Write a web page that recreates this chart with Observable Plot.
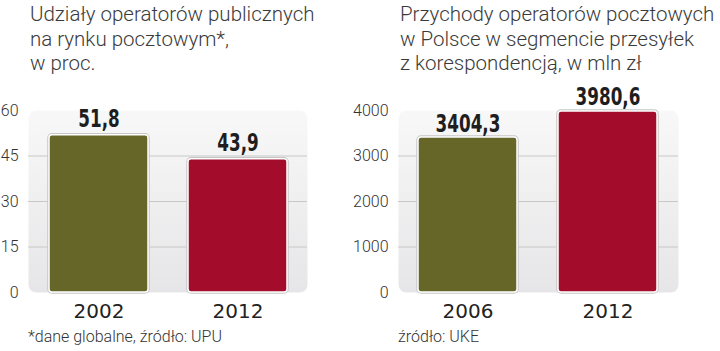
<!DOCTYPE html>
<html><head><meta charset="utf-8">
<script src="https://cdn.jsdelivr.net/npm/d3@7"></script>
<script src="https://cdn.jsdelivr.net/npm/@observablehq/plot@0.6"></script>
<style>
html,body{margin:0;padding:0;background:#fff;}
body{width:720px;height:351px;overflow:hidden;position:relative;font-family:Roboto,sans-serif;}
.title{position:absolute;top:2px;font-weight:300;font-size:20.5px;line-height:24.5px;color:#3a3a3a;white-space:nowrap}
.foot{position:absolute;top:327px;font-weight:300;font-size:16px;color:#333;white-space:nowrap}
.chart{position:absolute;top:80px}
</style></head><body>
<div class="title" style="left:30px">Udziały operatorów publicznych<br>na rynku pocztowym*,<br>w proc.</div>
<div class="title" style="left:400px">Przychody operatorów pocztowych<br>w Polsce w segmencie przesyłek<br>z korespondencją, w mln zł</div>
<div class="chart" id="c1" style="left:0px;width:360px"></div>
<div class="chart" id="c2" style="left:345px;width:375px"></div>
<div class="foot" style="left:28px">*dane globalne, źródło: UPU</div>
<div class="foot" style="left:398px">źródło: UKE</div>
<script>
const years1 = ["2002", "2012"];
const values1 = [51.8, 43.9];
const labels1 = ["51,8", "43,9"];
const ticks1 = [0, 15, 30, 45, 60];

const years2 = ["2006", "2012"];
const values2 = [3404.3, 3980.6];
const labels2 = ["3404,3", "3980,6"];
const ticks2 = [0, 1000, 2000, 3000, 4000];

const barColors = ["#666629", "#a30c2b"];

function panel({years, values, labels, ticks, width, marginLeft, marginRight, id, dy}) {
  const data = years.map((y, i) => ({year: y, value: values[i], label: labels[i], color: barColors[i]}));
  const gradient = () => {
    const defs = document.createElementNS("http://www.w3.org/2000/svg", "defs");
    defs.innerHTML = `<linearGradient id="${id}" x1="0" y1="0" x2="0" y2="1">
      <stop offset="0%" stop-color="#f8f8f8"/>
      <stop offset="100%" stop-color="#e6e6e8"/>
    </linearGradient>`;
    return defs;
  };
  const svg = Plot.plot({
    width, height: 250,
    marginTop: 30, marginBottom: 38, marginLeft, marginRight,
    style: {background: "transparent", overflow: "visible"},
    color: {type: "identity"},
    x: {domain: years, paddingInner: 0.29, paddingOuter: 0.143, label: null},
    y: {domain: [ticks[0], ticks[ticks.length - 1]], label: null},
    marks: [
      gradient,
      Plot.frame({fill: `url(#${id})`, stroke: null, rx: 8}),
      Plot.gridY(ticks.slice(1, -1), {stroke: "#c8c8c8", strokeOpacity: 1}),
      Plot.barY(data, {x: "year", y: "value", fill: "color", stroke: "#c6c6c6", strokeWidth: 3.5, rx: 3}),
      Plot.barY(data, {x: "year", y: "value", fill: "color", stroke: "#fff", strokeWidth: 1.5, rx: 3}),
      Plot.text(data, {x: "year", y: "value", text: "label", dy, lineAnchor: "bottom",
        fontFamily: "DejaVu Sans, sans-serif", fontWeight: "bold",
        fontSize: 24, fill: "#1e1e1e"}),
      Plot.axisY(ticks, {tickSize: 0, tickPadding: 10, fontSize: 16, fontFamily: "Roboto", fontWeight: 300, fill: "#333", label: null, tickFormat: d => String(d)}),
      Plot.axisX({tickSize: 0, tickPadding: 11, fontSize: 20, fontFamily: "DejaVu Sans", fill: "#222", label: null})
    ]
  });
  // condense the bold value labels horizontally
  svg.querySelectorAll("text").forEach(t => {
    if (!labels.includes(t.textContent)) return;
    const tr = t.getAttribute("transform");
    if (tr && tr.includes("translate")) {
      t.setAttribute("transform", tr + " scale(0.7,1)");
    } else {
      const x = +(t.getAttribute("x") || 0), y = +(t.getAttribute("y") || 0);
      t.setAttribute("x", 0); t.setAttribute("y", 0);
      t.setAttribute("transform", `${tr || ""} translate(${x},${y}) scale(0.7,1)`);
    }
  });
  return svg;
}

document.getElementById("c1").append(panel({
  years: years1, values: values1, labels: labels1, ticks: ticks1,
  width: 360, marginLeft: 28, marginRight: 53, id: "bg1", dy: -8
}));
document.getElementById("c2").append(panel({
  years: years2, values: values2, labels: labels2, ticks: ticks2,
  width: 375, marginLeft: 53, marginRight: 42, id: "bg2", dy: -6
}));
</script>
</body></html>
